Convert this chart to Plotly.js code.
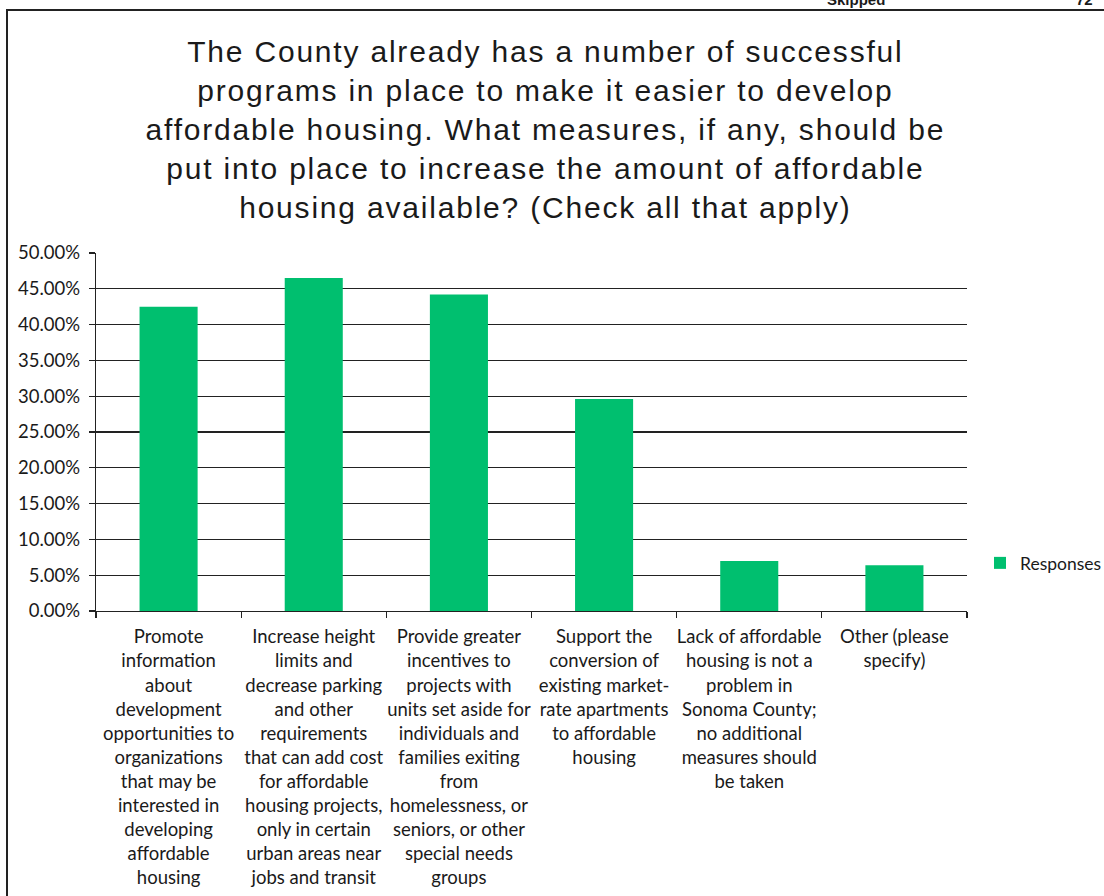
<!DOCTYPE html>
<html>
<head>
<meta charset="utf-8">
<script src="https://cdn.plot.ly/plotly-3.0.1.min.js"></script>
<style>
  html, body { margin: 0; padding: 0; background: #fff; }
  #chart { width: 1104px; height: 896px; }
  .gtitle { letter-spacing: 1.8px; }
</style>
</head>
<body>
<div id="chart"></div>
<script>
const titleText = "The County already has a number of successful<br>programs in place to make it easier to develop<br>affordable housing. What measures, if any, should be<br>put into place to increase the amount of affordable<br>housing available? (Check all that apply)";

const categories = [
  "Promote information about development opportunities to organizations that may be interested in developing affordable housing",
  "Increase height limits and decrease parking and other requirements that can add cost for affordable housing projects, only in certain urban areas near jobs and transit",
  "Provide greater incentives to projects with units set aside for individuals and families exiting from homelessness, or seniors, or other special needs groups",
  "Support the conversion of existing market-rate apartments to affordable housing",
  "Lack of affordable housing is not a problem in Sonoma County; no additional measures should be taken",
  "Other (please specify)"
];

const tickLabels = [
  "Promote<br>information<br>about<br>development<br>opportunities to<br>organizations<br>that may be<br>interested in<br>developing<br>affordable<br>housing",
  "Increase height<br>limits and<br>decrease parking<br>and other<br>requirements<br>that can add cost<br>for affordable<br>housing projects,<br>only in certain<br>urban areas near<br>jobs and transit",
  "Provide greater<br>incentives to<br>projects with<br>units set aside for<br>individuals and<br>families exiting<br>from<br>homelessness, or<br>seniors, or other<br>special needs<br>groups",
  "Support the<br>conversion of<br>existing market-<br>rate apartments<br>to affordable<br>housing",
  "Lack of affordable<br>housing is not a<br>problem in<br>Sonoma County;<br>no additional<br>measures should<br>be taken",
  "Other (please<br>specify)"
];

const responses = [0.425, 0.465, 0.442, 0.296, 0.070, 0.064];

const seriesName = "Responses";
const headerLabels = ["Skipped", "72"];

const labelFont = { family: "Lato, 'Open Sans', sans-serif", size: 18.5, color: "#1a1a1a" };

const data = [{
  type: "bar",
  name: seriesName,
  x: categories,
  y: responses,
  marker: { color: "#00BF6F" },
  showlegend: true,
  hoverinfo: "x+y"
}];

const layout = {
  width: 1104,
  height: 896,
  paper_bgcolor: "#ffffff",
  plot_bgcolor: "#ffffff",
  margin: { l: 96, r: 137, t: 253, b: 285, pad: 0, autoexpand: false },
  title: {
    text: titleText,
    font: { family: "'Liberation Sans', Arial, sans-serif", size: 30, color: "#1a1a1a" },
    xref: "container",
    yref: "container",
    x: 0.494,
    xanchor: "center",
    y: 0.931,
    yanchor: "top"
  },
  bargap: 0.6,
  showlegend: true,
  legend: {
    xref: "container",
    yref: "container",
    x: 980 / 1104,
    xanchor: "left",
    y: 1 - 563 / 896,
    yanchor: "middle",
    font: { family: "Lato, 'Open Sans', sans-serif", size: 17.5, color: "#1a1a1a" },
    itemwidth: 30,
    bgcolor: "rgba(0,0,0,0)"
  },
  xaxis: {
    type: "category",
    tickmode: "array",
    tickvals: categories,
    ticktext: tickLabels,
    tickson: "boundaries",
    ticks: "outside",
    ticklen: 6,
    tickcolor: "#222",
    tickwidth: 1.2,
    showline: true,
    linecolor: "#222",
    linewidth: 1.2,
    showgrid: false,
    tickangle: 0,
    tickfont: labelFont,
    automargin: false,
    ticklabelstandoff: 9
  },
  yaxis: {
    range: [0, 0.5],
    dtick: 0.05,
    tick0: 0,
    tickformat: ".2%",
    ticks: "outside",
    ticklen: 6,
    tickcolor: "#222",
    tickwidth: 1.2,
    showline: true,
    linecolor: "#222",
    linewidth: 1.2,
    showgrid: true,
    gridcolor: "#222",
    gridwidth: 1.2,
    zeroline: false,
    tickfont: { family: "Lato, 'Open Sans', sans-serif", size: 18.5, color: "#1a1a1a" },
    automargin: false,
    ticklabelstandoff: 5
  },
  shapes: [{
    type: "rect",
    xref: "paper",
    yref: "paper",
    x0: (7 - 96) / 871,
    x1: 1.3,
    y0: -1.0,
    y1: (611 - 10) / 358,
    line: { color: "#222", width: 2 },
    fillcolor: "rgba(0,0,0,0)",
    layer: "below"
  }],
  annotations: [
    {
      text: "<b>" + headerLabels[0] + "</b>",
      xref: "paper", yref: "paper",
      x: (856 - 96) / 871, y: (611 - 10) / 358,
      xanchor: "center", yanchor: "bottom",
      showarrow: false,
      font: { family: "'Liberation Sans', Arial, sans-serif", size: 15, color: "#1a1a1a" }
    },
    {
      text: "<b>" + headerLabels[1] + "</b>",
      xref: "paper", yref: "paper",
      x: (1084 - 96) / 871, y: (611 - 10) / 358,
      xanchor: "center", yanchor: "bottom",
      showarrow: false,
      font: { family: "'Liberation Sans', Arial, sans-serif", size: 15, color: "#1a1a1a" }
    }
  ]
};

Plotly.newPlot("chart", data, layout, { displayModeBar: false, staticPlot: true });
</script>
</body>
</html>
